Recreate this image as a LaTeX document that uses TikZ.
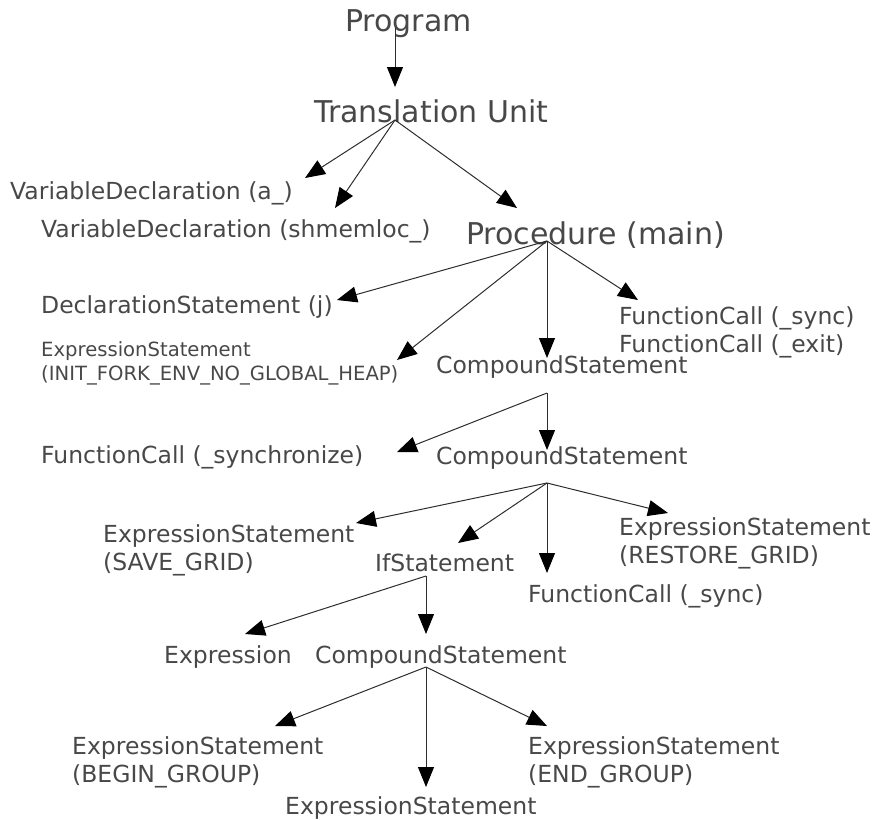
\documentclass[tikz,border=0pt]{standalone}
\usepackage{fontspec}
\setmainfont{DejaVu Sans}
\usetikzlibrary{arrows.meta}
\definecolor{txtgray}{RGB}{72,72,72}
\definecolor{edgegray}{RGB}{45,45,45}

\tikzset{
  big/.style={anchor=base west, inner sep=0pt, text=txtgray,
    font=\fontsize{30}{36}\selectfont},
  mid/.style={anchor=base west, inner sep=0pt, text=txtgray, align=left,
    font=\fontsize{23.5}{28}\selectfont},
  small/.style={anchor=base west, inner sep=0pt, text=txtgray, align=left,
    font=\fontsize{19.6}{24}\selectfont},
  arr/.style={-{Triangle[length=20pt,width=16pt,color=black]}, draw=edgegray, line width=1pt},
}

\begin{document}
\begin{tikzpicture}[x=1pt,y=-1pt]
  \useasboundingbox (0,0) rectangle (879,820);

  % the tree labels (two-line labels sit on their second baseline)
  \node[big] (prog) at (345,31) {Program};
  \node[big] (tu) at (314,122) {Translation Unit};
  \node[mid] (vda) at (10,199) {VariableDeclaration (a\_)};
  \node[mid] (vdsh) at (41,237) {VariableDeclaration (shmemloc\_)};
  \node[big] (proc) at (466,244) {Procedure (main)};
  \node[mid] (declj) at (41,313) {DeclarationStatement (j)};
  \node[small] (initenv) at (41,380) {ExpressionStatement\\(INIT\_FORK\_ENV\_NO\_GLOBAL\_HEAP)};
  \node[mid] (fcsync) at (619,352) {FunctionCall (\_sync)\\FunctionCall (\_exit)};
  \node[mid] (cs1) at (436,373) {CompoundStatement};
  \node[mid] (fcsynch) at (41,463) {FunctionCall (\_synchronize)};
  \node[mid] (cs2) at (436,464) {CompoundStatement};
  \node[mid] (savegrid) at (103,570) {ExpressionStatement\\(SAVE\_GRID)};
  \node[mid] (ifstmt) at (375,571) {IfStatement};
  \node[mid] (restore) at (619,563) {ExpressionStatement\\(RESTORE\_GRID)};
  \node[mid] (fcsynctwo) at (528,602) {FunctionCall (\_sync)};
  \node[mid] (expr) at (164,663) {Expression};
  \node[mid] (cs3) at (315,663) {CompoundStatement};
  \node[mid] (begingrp) at (72,782) {ExpressionStatement\\(BEGIN\_GROUP)};
  \node[mid] (endgrp) at (528,782) {ExpressionStatement\\(END\_GROUP)};
  \node[mid] (exstmt) at (285,814) {ExpressionStatement};

  % where the arrows leave a label
  \coordinate (prog-out) at (395,28);
  \coordinate (tu-out) at (395,120);
  \coordinate (proc-out) at (547,241);
  \coordinate (cs1-out) at (547,393);
  \coordinate (cs2-out) at (547,483);
  \coordinate (if-out) at (426,576);
  \coordinate (cs3-out) at (426,667);

  % where the arrows arrive
  \coordinate (tu-in) at (395,87);
  \coordinate (vda-in) at (305,178);
  \coordinate (vdsh-in) at (335,208);
  \coordinate (proc-in) at (517,208);
  \coordinate (declj-in) at (337,300);
  \coordinate (initenv-in) at (397,360);
  \coordinate (cs1-in) at (547,358);
  \coordinate (fcsync-in) at (638,300);
  \coordinate (fcsynch-in) at (397,452);
  \coordinate (cs2-in) at (547,450);
  \coordinate (savegrid-in) at (356,523);
  \coordinate (ifstmt-in) at (458,543);
  \coordinate (fcsynctwo-in) at (547,573);
  \coordinate (restore-in) at (668,513);
  \coordinate (expr-in) at (245,634);
  \coordinate (cs3-in) at (426,634);
  \coordinate (begingrp-in) at (275,726);
  \coordinate (exstmt-in) at (426,787);
  \coordinate (endgrp-in) at (547,726);

  \foreach \a/\b in {prog/tu, tu/vda, tu/vdsh, tu/proc,
                     proc/declj, proc/initenv, proc/cs1, proc/fcsync,
                     cs1/fcsynch, cs1/cs2,
                     cs2/savegrid, cs2/ifstmt, cs2/fcsynctwo, cs2/restore,
                     if/expr, if/cs3,
                     cs3/begingrp, cs3/exstmt, cs3/endgrp}
    \draw[arr] (\a-out) -- (\b-in);
\end{tikzpicture}
\end{document}
